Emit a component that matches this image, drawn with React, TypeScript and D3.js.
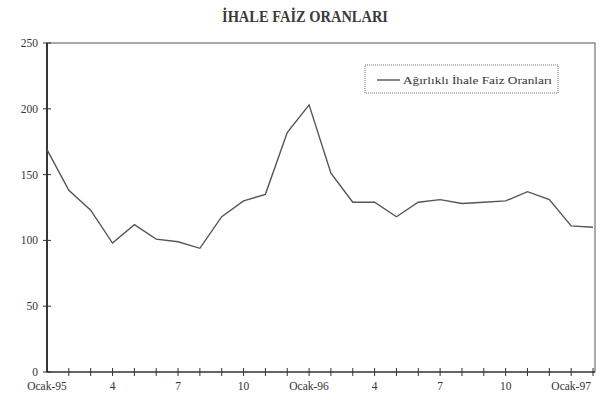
import { useRef, useEffect } from 'react';
import * as d3 from 'd3';

// Ocak-95 .. Şubat-97, monthly
const months = [
  'Ocak-95', '2', '3', '4', '5', '6', '7', '8', '9', '10', '11', '12',
  'Ocak-96', '2', '3', '4', '5', '6', '7', '8', '9', '10', '11', '12',
  'Ocak-97', '2',
];
const rates = [
  169, 138, 123, 98, 112, 101, 99, 94, 118, 130, 135, 182,
  203, 151, 129, 129, 118, 129, 131, 128, 129, 130, 137, 131,
  111, 110,
];
const labelIdx = [0, 3, 6, 9, 12, 15, 18, 21, 24];
const yTicks = [0, 50, 100, 150, 200, 250];
const title = 'İHALE FAİZ ORANLARI';
const seriesName = 'Ağırlıklı İhale Faiz Oranları';

const W = 606;
const H = 400;
const FONT = '"Liberation Serif", "DejaVu Serif", serif';

export default function App() {
  const svgRef = useRef<SVGSVGElement>(null);

  useEffect(() => {
    const svg = d3.select(svgRef.current);
    svg.selectAll('*').remove();

    const pad = { top: 43, right: 11, bottom: 28, left: 47 };
    const x = d3.scaleLinear().domain([0, months.length - 1]).range([pad.left, W - pad.right - 2]);
    const y = d3.scaleLinear().domain([0, 250]).range([H - pad.bottom, pad.top]);
    const x0 = pad.left;
    const x1 = W - pad.right;

    svg.append('rect').attr('width', W).attr('height', H).attr('fill', '#fff');

    // title
    svg.append('text')
      .attr('x', 305).attr('y', 22)
      .attr('text-anchor', 'middle')
      .attr('font-family', FONT).attr('font-size', 16).attr('font-weight', 'bold')
      .attr('fill', '#3a3a3a')
      .attr('textLength', 166).attr('lengthAdjust', 'spacingAndGlyphs')
      .text(title);

    // frame
    svg.append('rect')
      .attr('x', x0).attr('y', y(250))
      .attr('width', x1 - x0).attr('height', y(0) - y(250))
      .attr('fill', 'none').attr('stroke', '#555').attr('stroke-width', 1);
    svg.append('line')
      .attr('x1', x0).attr('x2', x0).attr('y1', y(250)).attr('y2', y(0))
      .attr('stroke', '#111').attr('stroke-width', 1.5);
    svg.append('line')
      .attr('x1', x0).attr('x2', x1).attr('y1', y(0)).attr('y2', y(0))
      .attr('stroke', '#222').attr('stroke-width', 1.2);

    // y ticks
    yTicks.forEach(t => {
      svg.append('line')
        .attr('x1', x0 - 4).attr('x2', x0 + 4).attr('y1', y(t)).attr('y2', y(t))
        .attr('stroke', '#333').attr('stroke-width', 1);
      svg.append('text')
        .attr('x', 38).attr('y', y(t) + 4)
        .attr('text-anchor', 'end')
        .attr('font-family', FONT).attr('font-size', 11.5).attr('fill', '#333')
        .text(t);
    });

    // x ticks
    months.forEach((_, i) => {
      if (i === 0) return;
      svg.append('line')
        .attr('x1', x(i)).attr('x2', x(i)).attr('y1', y(0) - 4).attr('y2', y(0) + 4)
        .attr('stroke', '#333').attr('stroke-width', 1);
    });
    labelIdx.forEach(i => {
      svg.append('text')
        .attr('x', x(i)).attr('y', 390)
        .attr('text-anchor', 'middle')
        .attr('font-family', FONT).attr('font-size', 11.5).attr('fill', '#333')
        .text(months[i]);
    });

    // series
    const line = d3.line<number>().x((_, i) => x(i)).y(d => y(d));
    svg.append('path').datum(rates)
      .attr('d', line).attr('fill', 'none')
      .attr('stroke', '#555').attr('stroke-width', 1.4)
      .attr('stroke-linejoin', 'miter');

    // legend
    const lg = svg.append('g').attr('transform', 'translate(365,65)');
    lg.append('rect')
      .attr('width', 193).attr('height', 28)
      .attr('fill', '#fff').attr('stroke', '#777').attr('stroke-width', 1)
      .attr('stroke-dasharray', '1,1');
    lg.append('line')
      .attr('x1', 12).attr('x2', 35).attr('y1', 15).attr('y2', 15)
      .attr('stroke', '#555').attr('stroke-width', 1.4);
    lg.append('text')
      .attr('x', 38).attr('y', 18.5)
      .attr('font-family', FONT).attr('font-size', 10.5).attr('fill', '#333')
      .attr('textLength', 149).attr('lengthAdjust', 'spacingAndGlyphs')
      .text(seriesName);
  }, []);

  return (
    <svg ref={svgRef} width={W} height={H}
      style={{ position: 'absolute', left: 0, top: 0, display: 'block' }} />
  );
}
